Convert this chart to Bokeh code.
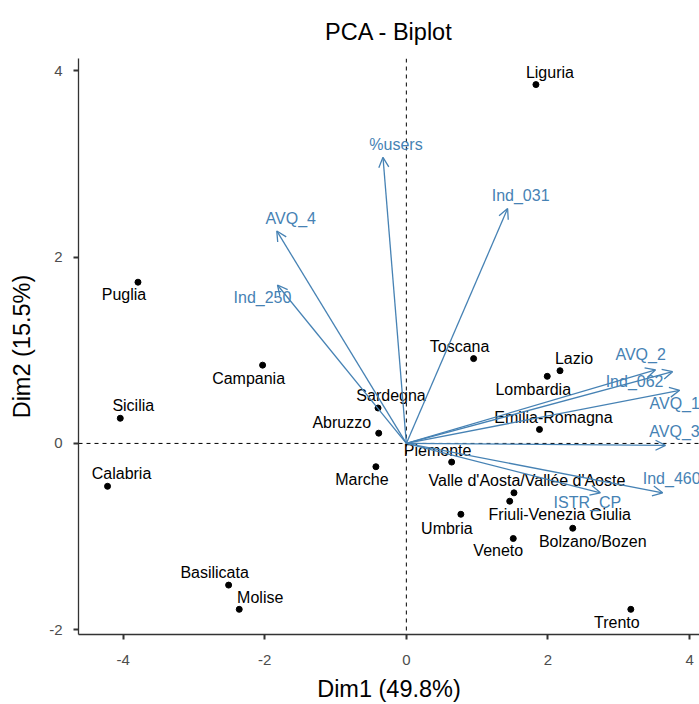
from bokeh.plotting import figure
from bokeh.models import (ColumnDataSource, Span, Arrow, OpenHead, FixedTicker,
                          PrintfTickFormatter)
from bokeh.embed import file_html
from bokeh.resources import INLINE
from bokeh.core.properties import value

# ---- data -------------------------------------------------------------
regions = ["Liguria", "Puglia", "Campania", "Sicilia", "Calabria", "Toscana",
           "Lazio", "Lombardia", "Emilia-Romagna", "Sardegna", "Abruzzo",
           "Piemonte", "Marche", "Valle d'Aosta/Vallée d'Aoste",
           "Friuli-Venezia Giulia", "Umbria", "Bolzano/Bozen", "Veneto",
           "Basilicata", "Molise", "Trento"]
dim1 = [1.83, -3.79, -2.03, -4.04, -4.22, 0.95, 2.17, 1.99, 1.88, -0.40, -0.39,
        0.64, -0.43, 1.52, 1.46, 0.77, 2.35, 1.51, -2.51, -2.36, 3.17]
dim2 = [3.85, 1.73, 0.84, 0.27, -0.46, 0.91, 0.78, 0.72, 0.15, 0.38, 0.11,
        -0.20, -0.25, -0.53, -0.62, -0.76, -0.91, -1.02, -1.52, -1.78, -1.78]

variables = ["%users", "Ind_031", "AVQ_4", "Ind_250", "AVQ_2", "Ind_062",
             "AVQ_1", "AVQ_3", "Ind_460", "ISTR_CP"]
var_dim1 = [-0.33, 1.43, -1.83, -1.82, 3.52, 3.76, 3.86, 3.66, 3.62, 2.74]
var_dim2 = [3.07, 2.52, 2.28, 1.70, 0.79, 0.77, 0.57, -0.02, -0.53, -0.53]

x_ticks = [-4, -2, 0, 2, 4]
y_ticks = [-2, 0, 2, 4]

title_text = "PCA - Biplot"
x_label = "Dim1 (49.8%)"
y_label = "Dim2 (15.5%)"

# ---- label placement (screen px, + = right / down) --------------------
region_dx = [14, -14, -14, 13, 14, -14, 14, -14, 14, 13, -37,
             -14, -14, 13, 50, -14, 20, -15, -14, 21, -14]
region_dy = [-12, 12, 13, -13, -13, -12, -12, 13, -12, -13, -11,
             -12, 13, -12, 13, 14, 13, 12, -13, -12, 13]
var_dx = [13, 13, 14, -15, -15, -38, -5, 9, 9, -13]
var_dy = [-13, -13, -12, 13, -15, 10, 13, -14, -14, 10]

FONT = "Liberation Sans"
BLUE = "#4682B4"

pts = ColumnDataSource(dict(x=dim1, y=dim2, name=regions, dx=region_dx, dy=region_dy))
vrs = ColumnDataSource(dict(x=var_dim1, y=var_dim2, name=variables, dx=var_dx, dy=var_dy))

p = figure(width=699, height=704, x_range=(-4.63, 4.14), y_range=(-2.05, 4.13),
           output_backend="svg", toolbar_location=None,
           min_border_left=78, min_border_right=0, min_border_top=58,
           min_border_bottom=68)
p.outline_line_color = None
p.xgrid.grid_line_color = None
p.ygrid.grid_line_color = None

p.title.text = title_text
p.title.align = "center"
p.title.text_font = FONT
p.title.text_font_size = "23.5px"
p.title.text_font_style = "normal"
p.title.text_color = "#000000"
p.title.offset = 5
p.title.standoff = 28

for ax in (p.xaxis[0], p.yaxis[0]):
    ax.axis_line_color = "#333333"
    ax.axis_line_width = 1.3
    ax.major_tick_line_color = "#333333"
    ax.major_tick_line_width = 2
    ax.major_tick_out = 5
    ax.major_tick_in = 0
    ax.minor_tick_line_color = None
    ax.major_label_text_font = FONT
    ax.major_label_text_font_size = "15px"
    ax.major_label_text_color = "#4D4D4D"
    ax.axis_label_text_font = FONT
    ax.axis_label_text_font_size = "23.5px"
    ax.axis_label_text_font_style = "normal"
    ax.axis_label_text_color = "#000000"
    ax.formatter = PrintfTickFormatter(format="%d")

p.xaxis.ticker = FixedTicker(ticks=x_ticks)
p.yaxis.ticker = FixedTicker(ticks=y_ticks)
p.xaxis.axis_label = x_label
p.yaxis.axis_label = y_label
p.xaxis.major_label_standoff = 15
p.yaxis.major_label_standoff = 11
p.xaxis.axis_label_standoff = 8
p.yaxis.axis_label_standoff = 11

# reference lines
p.add_layout(Span(location=0, dimension="width", line_color="black",
                  line_dash="4 4", line_width=1, level="underlay"))
p.add_layout(Span(location=0, dimension="height", line_color="black",
                  line_dash="4 4", line_width=1, level="underlay"))

# individuals
p.scatter("x", "y", source=pts, size=6, color="black")
p.text("x", "y", text="name", source=pts, x_offset="dx", y_offset="dy",
       text_align="center", text_baseline="middle", text_font=value(FONT),
       text_font_size="16px", text_color="black")

# variables
p.add_layout(Arrow(end=OpenHead(size=10, line_color=BLUE, line_width=1.3),
                   x_start=0, y_start=0, x_end="x", y_end="y", source=vrs,
                   line_color=BLUE, line_width=1.3))
p.text("x", "y", text="name", source=vrs, x_offset="dx", y_offset="dy",
       text_align="center", text_baseline="middle", text_font=value(FONT),
       text_font_size="16px", text_color=BLUE, level="overlay")

open("out.html", "w").write(file_html(p, INLINE))
